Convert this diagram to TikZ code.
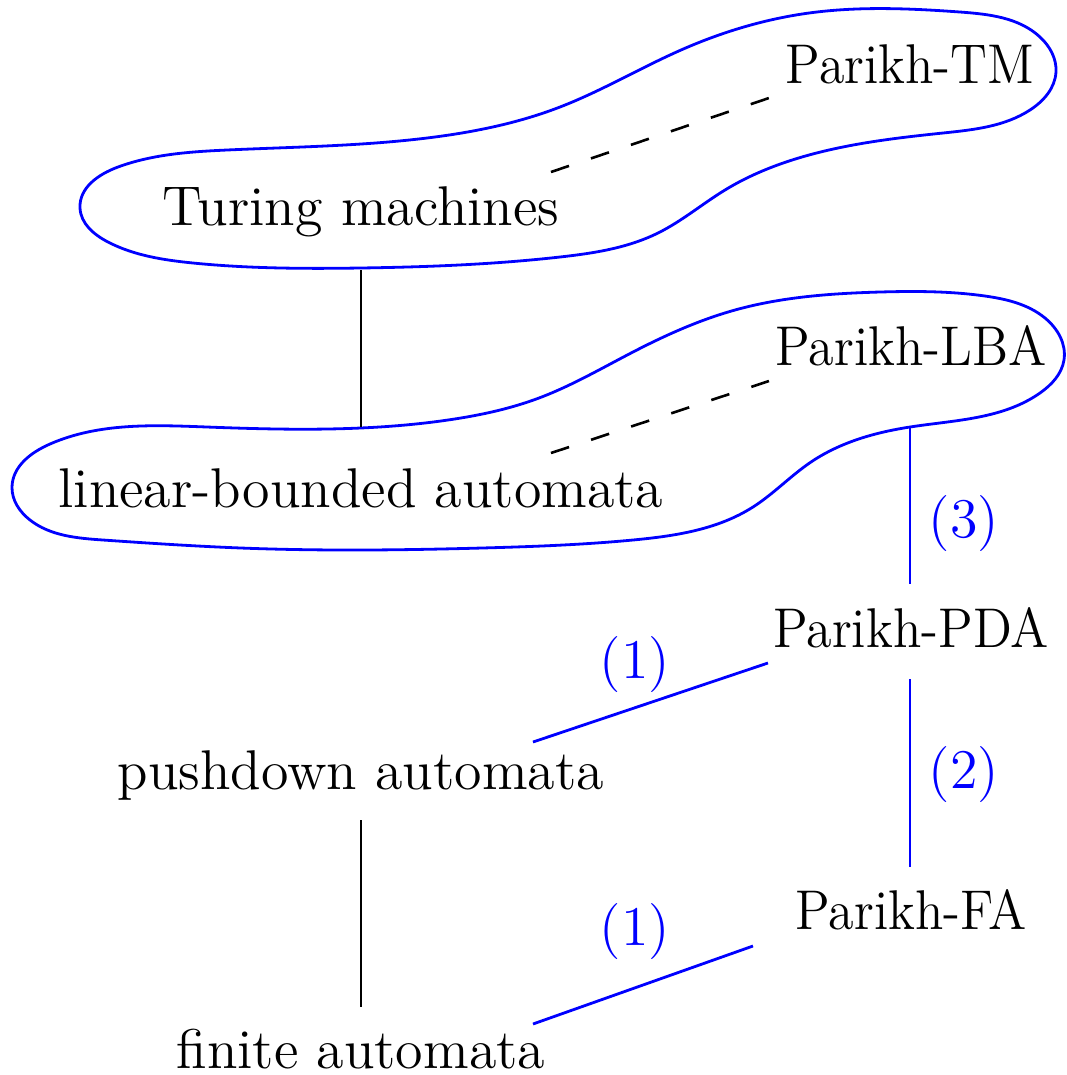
\documentclass[tikz,border=0pt]{standalone}
\usetikzlibrary{hobby}
\begin{document}
\begin{tikzpicture}[x=0.25pt,y=-0.25pt,
  lab/.style={inner sep=0pt,anchor=base,font=\fontsize{14}{16}\selectfont},
  plab/.style={lab},
  num/.style={lab,text=blue},
  blk/.style={draw=black,line width=0.65pt},
  bl/.style={draw=blue,line width=0.7pt},
  dsh/.style={draw=black,line width=0.65pt,dash pattern=on 4.75pt off 5.8pt},
  blob/.style={draw=blue,line width=0.7pt,use Hobby shortcut,closed=true}]
\useasboundingbox (0,0) rectangle (1067,1075);
% blobs
\draw[blob] (80,208) .. (118,167) .. (227,150) .. (427,138) .. (560,107) .. (681,50)
 .. (809,13) .. (960,12) .. (1040,37) .. (1056,72) .. (1030,110) .. (943,133) .. (809,155)
 .. (725,190) .. (658,233) .. (560,257) .. (360,268) .. (193,263) .. (108,242);
\draw[blob] (12,487) .. (50,444) .. (207,427) .. (448,420) .. (539,398) .. (633,352)
 .. (735,310) .. (880,292) .. (985,296) .. (1045,318) .. (1064,360) .. (1040,393) .. (910,427)
 .. (811,462) .. (753,507) .. (633,540) .. (482,548) .. (362,550) .. (241,548)
 .. (103,540) .. (30,520);
% nodes
\node[lab] (tm)   at (361,225)  {Turing machines};
\node[plab] (ptm)  at (910,83)   {\scalebox{0.93}[1]{Parikh-TM}};
\node[plab] (plba) at (911,365)  {\scalebox{0.93}[1]{Parikh-LBA}};
\node[lab] (lba)  at (361,507)  {linear-bounded automata};
\node[plab] (ppda) at (911,647)  {\scalebox{0.93}[1]{Parikh-PDA}};
\node[lab] (pda)  at (361,789)  {pushdown automata};
\node[plab] (pfa)  at (911,929)  {\scalebox{0.93}[1]{Parikh-FA}};
\node[lab] (fa)   at (361,1068) {finite automata};
% connectors
\draw[blk] ([shift={(0,45)}]tm.base) -- ([shift={(0,-80)}]lba.base);
\draw[dsh] ([shift={(190,-53)}]tm.base) -- ([shift={(-141,15)}]ptm.base);
\draw[dsh] ([shift={(190,-54)}]lba.base) -- ([shift={(-142,16)}]plba.base);
\draw[bl] ([shift={(-1,62)}]plba.base) -- ([shift={(-1,-63)}]ppda.base);
\draw[bl] ([shift={(-1,32)}]ppda.base) -- ([shift={(-1,-62)}]pfa.base);
\draw[bl] ([shift={(172,-47)}]pda.base) -- ([shift={(-143,16)}]ppda.base);
\draw[blk] ([shift={(0,31)}]pda.base) -- ([shift={(0,-61)}]fa.base);
\draw[bl] ([shift={(172,-44)}]fa.base) -- ([shift={(-158,17)}]pfa.base);
% labels
\node[num] (l3)  at (964,537) {(3)};
\node[num] (l2)  at (964,788) {(2)};
\node[num] (l1a) at (635,678) {(1)};
\node[num] (l1b) at (635,945) {(1)};
\end{tikzpicture}
\end{document}
